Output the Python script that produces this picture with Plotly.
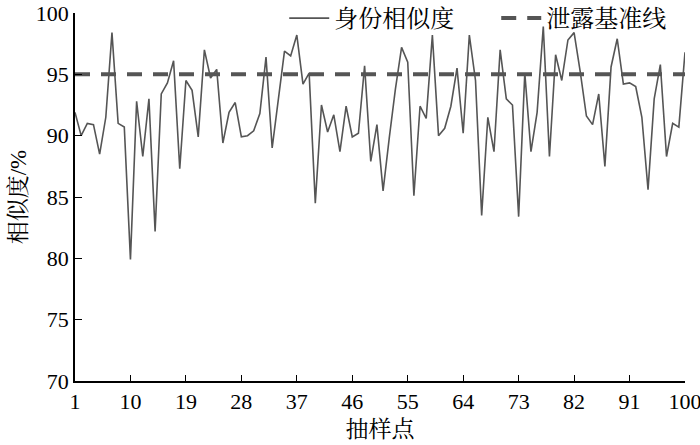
import plotly.graph_objects as go

sample_idx = list(range(1, 101))
identity_similarity = [
    91.9, 90.0, 91.0, 90.9, 88.5, 91.5, 98.4, 91.0, 90.7, 79.9,
    92.8, 88.3, 93.0, 82.2, 93.4, 94.3, 96.1, 87.3, 94.5, 93.7,
    89.9, 97.0, 94.7, 95.4, 89.4, 91.9, 92.7, 89.9, 90.0, 90.4,
    91.8, 96.4, 89.0, 92.8, 96.9, 96.5, 98.2, 94.2, 95.1, 84.5,
    92.5, 90.3, 91.7, 88.7, 92.4, 89.9, 90.2, 95.7, 87.9, 90.9,
    85.5, 89.8, 93.8, 97.2, 96.0, 85.1, 92.4, 91.4, 98.2, 90.0,
    90.6, 92.4, 95.5, 90.2, 98.2, 94.5, 83.5, 91.5, 88.7, 97.0,
    93.0, 92.5, 83.4, 95.1, 88.7, 91.9, 98.9, 88.3, 96.6, 94.5,
    97.8, 98.4, 95.2, 91.6, 90.9, 93.4, 87.5, 95.6, 97.9, 94.2,
    94.3, 94.0, 91.5, 85.6, 93.0, 95.8, 88.3, 91.0, 90.7, 96.8,
]
baseline_value = 95
x_ticks = [1, 10, 19, 28, 37, 46, 55, 64, 73, 82, 91, 100]
y_ticks = [70, 75, 80, 85, 90, 95, 100]

series_names = ["身份相似度", "泄露基准线"]
x_title = "抽样点"
y_title = "相似度/%"

serif = "Times New Roman, Liberation Serif, Noto Serif CJK SC, Noto Sans CJK SC"

fig = go.Figure()
fig.add_trace(go.Scatter(
    x=sample_idx, y=identity_similarity, mode="lines", name=series_names[0],
    line=dict(color="#555555", width=1.6),
))
fig.add_trace(go.Scatter(
    x=[sample_idx[0], sample_idx[-1]], y=[baseline_value, baseline_value],
    mode="lines", name=series_names[1],
    line=dict(color="#555555", width=4, dash="15px,11px"),
))

fig.update_layout(
    width=700, height=445,
    margin=dict(l=75, r=15, t=13, b=64, autoexpand=False),
    paper_bgcolor="white", plot_bgcolor="white",
    font=dict(family=serif, size=22, color="black"),
    showlegend=True,
    legend=dict(
        orientation="h", x=0.343, xanchor="left", y=0.985, yanchor="middle",
        bgcolor="rgba(0,0,0,0)", font=dict(size=24, family=serif),
        itemwidth=40, entrywidth=157, entrywidthmode="pixels",
        tracegroupgap=0,
    ),
    xaxis=dict(
        range=[1, 100], tickvals=x_ticks, ticktext=[str(v) for v in x_ticks],
        automargin=False, ticklabeloverflow="allow",
        showgrid=False, zeroline=False, showline=True, linecolor="black", linewidth=1.5,
        ticks="inside", ticklen=6, tickwidth=1.3, tickcolor="black",
        tickfont=dict(size=22, family=serif),
        title=dict(text=x_title, font=dict(size=23, family=serif), standoff=8),
    ),
    yaxis=dict(
        range=[70, 100], tickvals=y_ticks, automargin=False,
        showgrid=False, zeroline=False, showline=True, linecolor="black", linewidth=1.5,
        ticks="inside", ticklen=7, tickwidth=1.3, tickcolor="black",
        tickfont=dict(size=22, family=serif),
        title=dict(text=y_title, font=dict(size=23, family=serif), standoff=3),
    ),
)

fig.write_html(
    "out.html",
    config={"displayModeBar": False},
    post_script="document.body.style.margin='0px';document.body.style.overflow='hidden';",
)
